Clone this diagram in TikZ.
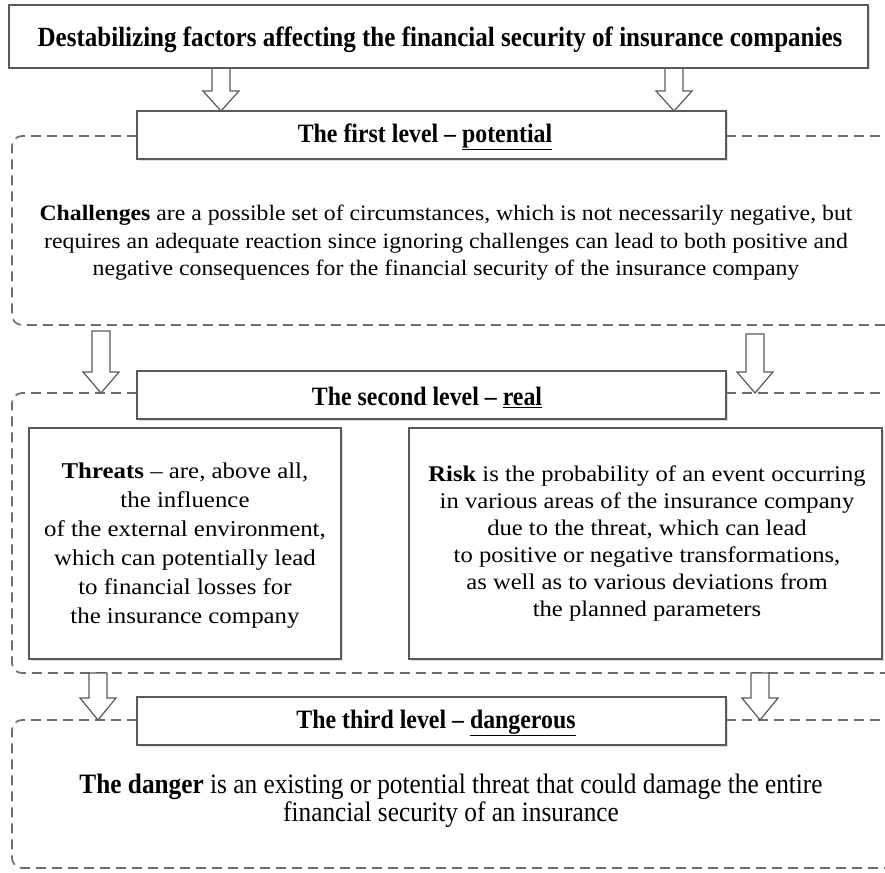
\documentclass[tikz,border=0pt]{standalone}
\usepackage{fontspec}
\setmainfont{Liberation Serif}
\newfontfamily\narrowfont[FakeStretch=0.9,Ligatures=TeX]{Liberation Serif}
\newfontfamily\widefont[FakeStretch=1.08,Ligatures=TeX]{Liberation Serif}
\newfontfamily\widerfont[FakeStretch=1.1,Ligatures=TeX]{Liberation Serif}
\usetikzlibrary{shadows}
\definecolor{boxgray}{HTML}{5A5A5A}
\definecolor{dashgray}{HTML}{6E6E6E}
\begin{document}
\begin{tikzpicture}[x=1pt,y=-1pt,
  solidbox/.style={draw=boxgray, line width=1.3pt, fill=white, inner sep=0pt,
    drop shadow={shadow xshift=1.5pt, shadow yshift=-1.5pt, opacity=0.25}},
  dashregion/.style={draw=dashgray, line width=1.7pt, dash pattern=on 10pt off 6pt, rounded corners=10pt},
  barrow/.style={draw=boxgray, line width=1.2pt, fill=white, line join=miter},
  titletext/.style={font=\narrowfont\fontsize{27.8}{30}\selectfont\bfseries},
  headtext/.style={font=\narrowfont\fontsize{26.5}{30}\selectfont\bfseries},
  bodytext/.style={font=\widefont\fontsize{22}{27.5}\selectfont, align=center},
  boxtext/.style={align=center},
  dangertext/.style={font=\narrowfont\fontsize{28.1}{28}\selectfont, align=center}
]
\useasboundingbox (0,0) rectangle (885,872);
\fill[white] (0,0) rectangle (885,872);

% dashed regions
\draw[dashregion] (137,136) -- (12,136) -- (12,325) -- (885,325);
\draw[dashregion] (726,136) -- (885,136);
\draw[dashregion] (137,393) -- (12,393) -- (12,673) -- (885,673);
\draw[dashregion] (726,393) -- (885,393);
\draw[dashregion] (137,720) -- (12,720) -- (12,868) -- (885,868);
\draw[dashregion] (726,720) -- (885,720);

% block arrows
\newcommand\blockarrow[4]{% x, ytop, ytip, headlength
  \draw[barrow] (#1-9,#2) -- (#1+9,#2) -- (#1+9,#3-#4) -- (#1+18,#3-#4) -- (#1,#3)
    -- (#1-18,#3-#4) -- (#1-9,#3-#4) -- cycle;}
\blockarrow{221}{68}{111}{20}
\blockarrow{674}{68}{111}{20}
\blockarrow{101}{331}{393}{21}
\blockarrow{755}{334}{393}{21}
\blockarrow{98}{673}{720}{22}
\blockarrow{760}{673}{720}{22}

% top title
\node[solidbox, minimum width=859pt, minimum height=63pt] (title) at (438.5,36.5) {};
\node[titletext] (titlet) at (440,40) {Destabilizing factors affecting the financial security of insurance companies};

% level headers
\node[solidbox, minimum width=589pt, minimum height=48pt] (lvl1) at (431.5,135) {};
\node[headtext] (lvl1t) at (425,137) {The first level \textendash\ \underline{potential}};
\node[solidbox, minimum width=589pt, minimum height=48pt] (lvl2) at (431.5,395) {};
\node[headtext] (lvl2t) at (427,397) {The second level \textendash\ \underline{real}};
\node[solidbox, minimum width=589pt, minimum height=48pt] (lvl3) at (431.5,721) {};
\node[headtext] (lvl3t) at (436,723) {The third level \textendash\ \underline{dangerous}};

% challenges
\node[bodytext] (chal) at (446,243) {\textbf{Challenges} are a possible set of circumstances, which is not necessarily negative, but\\
requires an adequate reaction since ignoring challenges can lead to both positive and\\
negative consequences for the financial security of the insurance company};

% threats and risk
\node[solidbox, minimum width=312pt, minimum height=231pt] (threats) at (185,543.5) {};
\node[boxtext, font=\widerfont\fontsize{22.6}{29}\selectfont] (threatst) at (185,546) {\textbf{Threats} \textendash\ are, above all,\\
the influence\\
of the external environment,\\
which can potentially lead\\
to financial losses for\\
the insurance company};
\node[solidbox, minimum width=473pt, minimum height=231pt] (risk) at (645.5,543.5) {};
\node[boxtext, font=\widerfont\fontsize{22.4}{27}\selectfont] (riskt) at (647,543) {\textbf{Risk} is the probability of an event occurring\\
in various areas of the insurance company\\
due to the threat, which can lead\\
to positive or negative transformations,\\
as well as to various deviations from\\
the planned parameters};

% danger
\node[dangertext] (danger) at (451,801) {\textbf{The danger} is an existing or potential threat that could damage the entire\\
financial security of an insurance};
\end{tikzpicture}
\end{document}
